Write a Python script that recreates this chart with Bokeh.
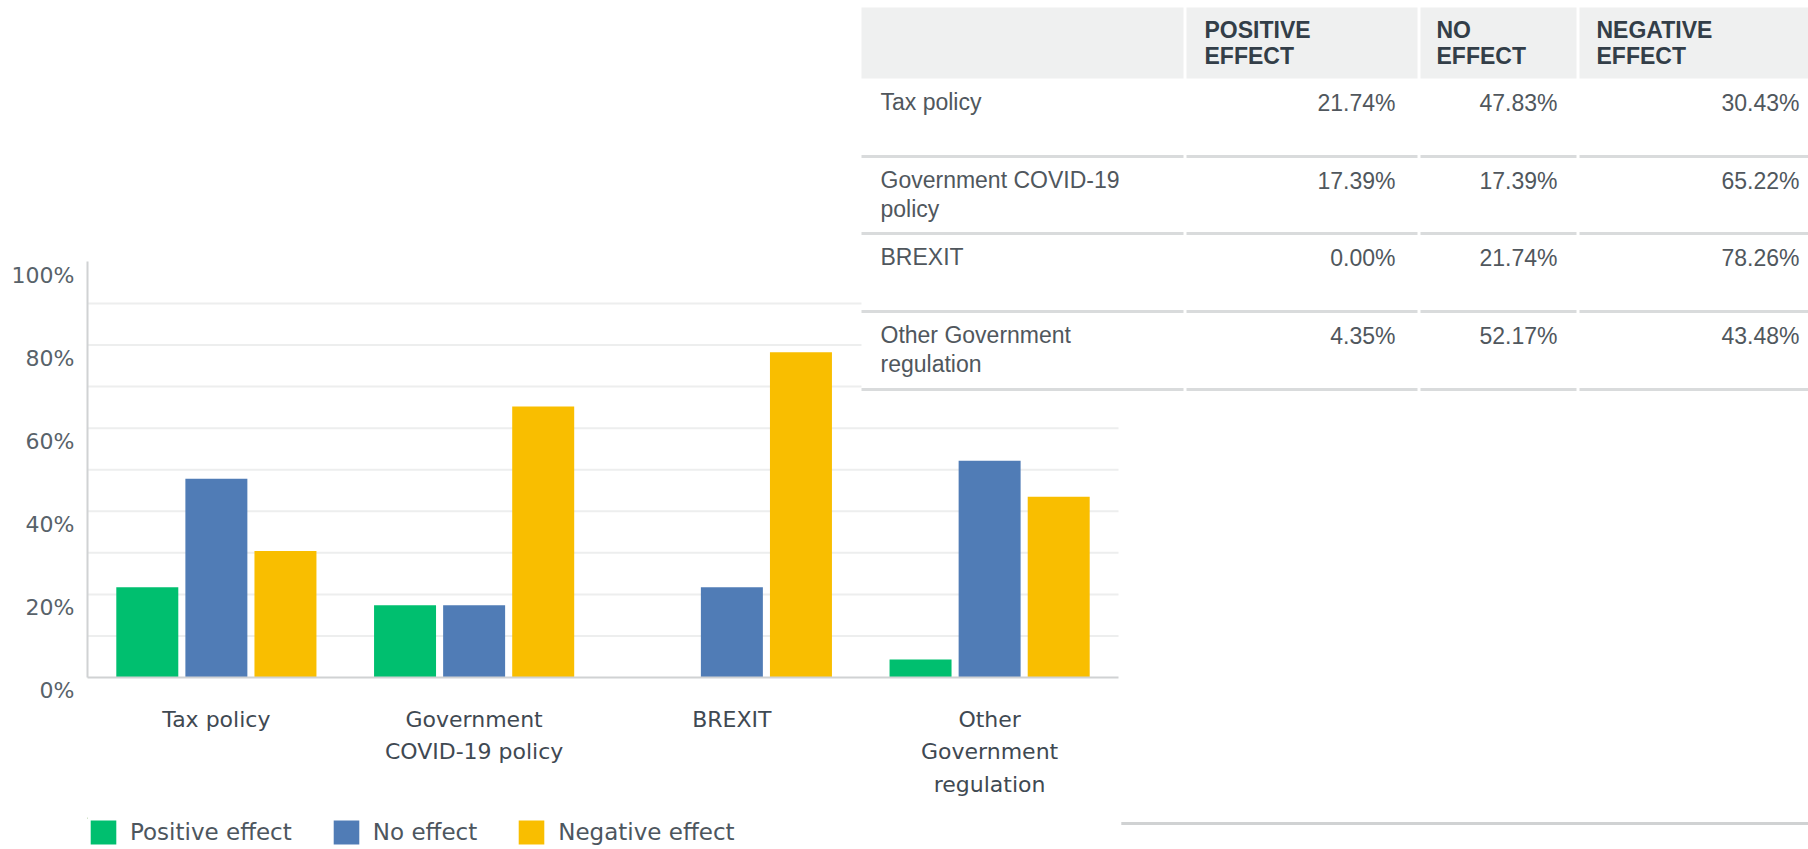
from bokeh.plotting import figure
from bokeh.layouts import column
from bokeh.models import Range1d, FixedTicker, Legend, LegendItem
from bokeh.core.properties import value
from bokeh.embed import file_html
from bokeh.resources import INLINE

# ---------------- data ----------------
categories = ["Tax policy", "Government COVID-19 policy", "BREXIT", "Other Government regulation"]
axis_labels = ["Tax policy", "Government\nCOVID-19 policy", "BREXIT", "Other\nGovernment\nregulation"]
table_row_labels = ["Tax policy", "Government COVID-19\npolicy", "BREXIT", "Other Government\nregulation"]
series_names = ["Positive effect", "No effect", "Negative effect"]
table_headers = ["POSITIVE\nEFFECT", "NO\nEFFECT", "NEGATIVE\nEFFECT"]
positive = [21.74, 17.39, 0.00, 4.35]
no_effect = [47.83, 17.39, 21.74, 52.17]
negative = [30.43, 65.22, 78.26, 43.48]
y_ticks = [0, 20, 40, 60, 80, 100]
grid_ticks = [10, 20, 30, 40, 50, 60, 70, 80, 90]

colors = ["#00bf6f", "#507cb6", "#f9be00"]
series = [positive, no_effect, negative]

# ---------------- layout (page pixels; canvas starts at page 0,0) ----------------
W = 1808
H1, H2 = 817, 32                            # chart+table figure, legend strip
FL, FR, FT, FB = 87, 1808, 0, 677          # frame edges of the main figure
PX_PER_UNIT = 4.156                         # y: px per percent
CAT_W = 257.75                              # x: px per category

p = figure(width=W, height=H1, output_backend="svg", toolbar_location=None,
           x_range=Range1d(0.5, 0.5 + (FR - FL) / CAT_W),
           y_range=Range1d(0, (FB - FT) / PX_PER_UNIT),
           min_border_left=FL, min_border_right=0, min_border_top=0,
           min_border_bottom=H1 - FB)
p.extra_x_ranges = {"px": Range1d(FL, FR)}
p.extra_y_ranges = {"py": Range1d(FB, FT)}
p.outline_line_color = None
p.xgrid.grid_line_color = None
p.ygrid.grid_line_color = None

# gridlines limited to the chart area
p.segment(x0=[0.5] * len(grid_ticks), x1=[4.5] * len(grid_ticks), y0=grid_ticks, y1=grid_ticks,
          line_color="#edeeee", line_width=2)

# bars
offsets = [-0.268, 0.0, 0.268]
for vals, off, col in zip(series, offsets, colors):
    xs = [i + 1 + off for i in range(len(categories))]
    p.vbar(x=xs, top=vals, bottom=0, width=0.2405, fill_color=col, line_color=None)

# axes
ya = p.yaxis[0]
ya.ticker = FixedTicker(ticks=y_ticks)
ya.major_label_overrides = {t: "\n%d%%" % t for t in y_ticks}   # label sits just below its tick
ya.bounds = (0, 100)
ya.axis_line_color = "#d0d2d3"
ya.axis_line_width = 2
ya.major_tick_line_color = None
ya.minor_tick_line_color = None
ya.major_label_standoff = 7
ya.major_label_text_font = "DejaVu Sans"
ya.major_label_text_font_size = "22px"
ya.major_label_text_color = "#58626a"
ya.major_label_text_line_height = 1.07

xa = p.xaxis[0]
xa.ticker = FixedTicker(ticks=[1, 2, 3, 4])
xa.major_label_overrides = {i + 1: lab for i, lab in enumerate(axis_labels)}
xa.bounds = (0.5, 4.5)
xa.axis_line_color = "#d0d2d3"
xa.axis_line_width = 2
xa.major_tick_line_color = None
xa.minor_tick_line_color = None
xa.major_label_standoff = 23
xa.major_label_text_font = "DejaVu Sans"
xa.major_label_text_font_size = "22px"
xa.major_label_text_color = "#3f4952"
xa.major_label_text_line_height = 1.31

# ---------------- table (page-pixel ranges) ----------------
kw = dict(x_range_name="px", y_range_name="py")
p.quad(left=[861], right=[FR], top=[0], bottom=[392], fill_color="white", line_color=None, **kw)
col_l = [861, 1186, 1420, 1579]
col_r = [1183, 1417, 1576, FR]
p.quad(left=col_l, right=col_r, top=[7] * 4, bottom=[78] * 4,
       fill_color="#eff0f0", line_color=None, **kw)
row_tops = [78, 156, 233, 311]
row_bottoms = [156, 233, 311, 389]
for yb in row_bottoms:
    p.quad(left=col_l, right=col_r, top=[yb - 1.5] * 4, bottom=[yb + 1.5] * 4,
           fill_color="#d9dbdc", line_color=None, **kw)

p.text(x=[1204, 1436, 1596], y=[16.7] * 3, text=table_headers,
       text_font=value("Liberation Sans"), text_font_size="23px", text_font_style="bold",
       text_color="#333e48", text_baseline="top", text_line_height=1.0, **kw)

p.text(x=[880] * 4, y=[t + 10 for t in row_tops], text=table_row_labels,
       text_font=value("Liberation Sans"), text_font_size="23px",
       text_color="#50575d", text_baseline="top", text_line_height=1.13, **kw)

val_right = [1395, 1557, 1799]
for vals, xr in zip(series, val_right):
    p.text(x=[xr] * 4, y=[t + 24 for t in row_tops], text=["%.2f%%" % v for v in vals],
           text_font=value("Liberation Sans"), text_font_size="23px",
           text_color="#50575d", text_align="right", text_baseline="middle", **kw)

# ---------------- legend strip (second figure, page-pixel ranges) ----------------
LL = 85
q = figure(width=W, height=H2, output_backend="svg", toolbar_location=None,
           x_range=Range1d(LL, W), y_range=Range1d(H2, 0),
           x_axis_location=None, y_axis_location=None,
           min_border_left=LL, min_border_right=0, min_border_top=0, min_border_bottom=0)
q.outline_line_color = None
q.xgrid.grid_line_color = None
q.ygrid.grid_line_color = None

# grey rule at the lower right (page y 823 -> strip y 6)
q.quad(left=[1120], right=[W], top=[4.5], bottom=[7.5], fill_color="#d0d2d3", line_color=None)

# legend proxies: one off-screen point each so the legend can draw its swatches
legend_renderers = [q.vbar(x=[-1000], top=[1], bottom=[0], width=1, fill_color=c, line_color=None)
                    for c in colors]
legend = Legend(items=[LegendItem(label=n, renderers=[r], index=0)
                       for n, r in zip(series_names, legend_renderers)],
                orientation="horizontal", location="top_left",
                glyph_width=32, glyph_height=30, label_standoff=11, spacing=38,
                padding=0, margin=0, border_line_color=None, background_fill_alpha=0,
                label_text_font="DejaVu Sans", label_text_font_size="23px",
                label_text_color="#4d565e")
q.add_layout(legend, "center")

layout = column(p, q, spacing=0)
open("out.html", "w").write(file_html(layout, INLINE))
